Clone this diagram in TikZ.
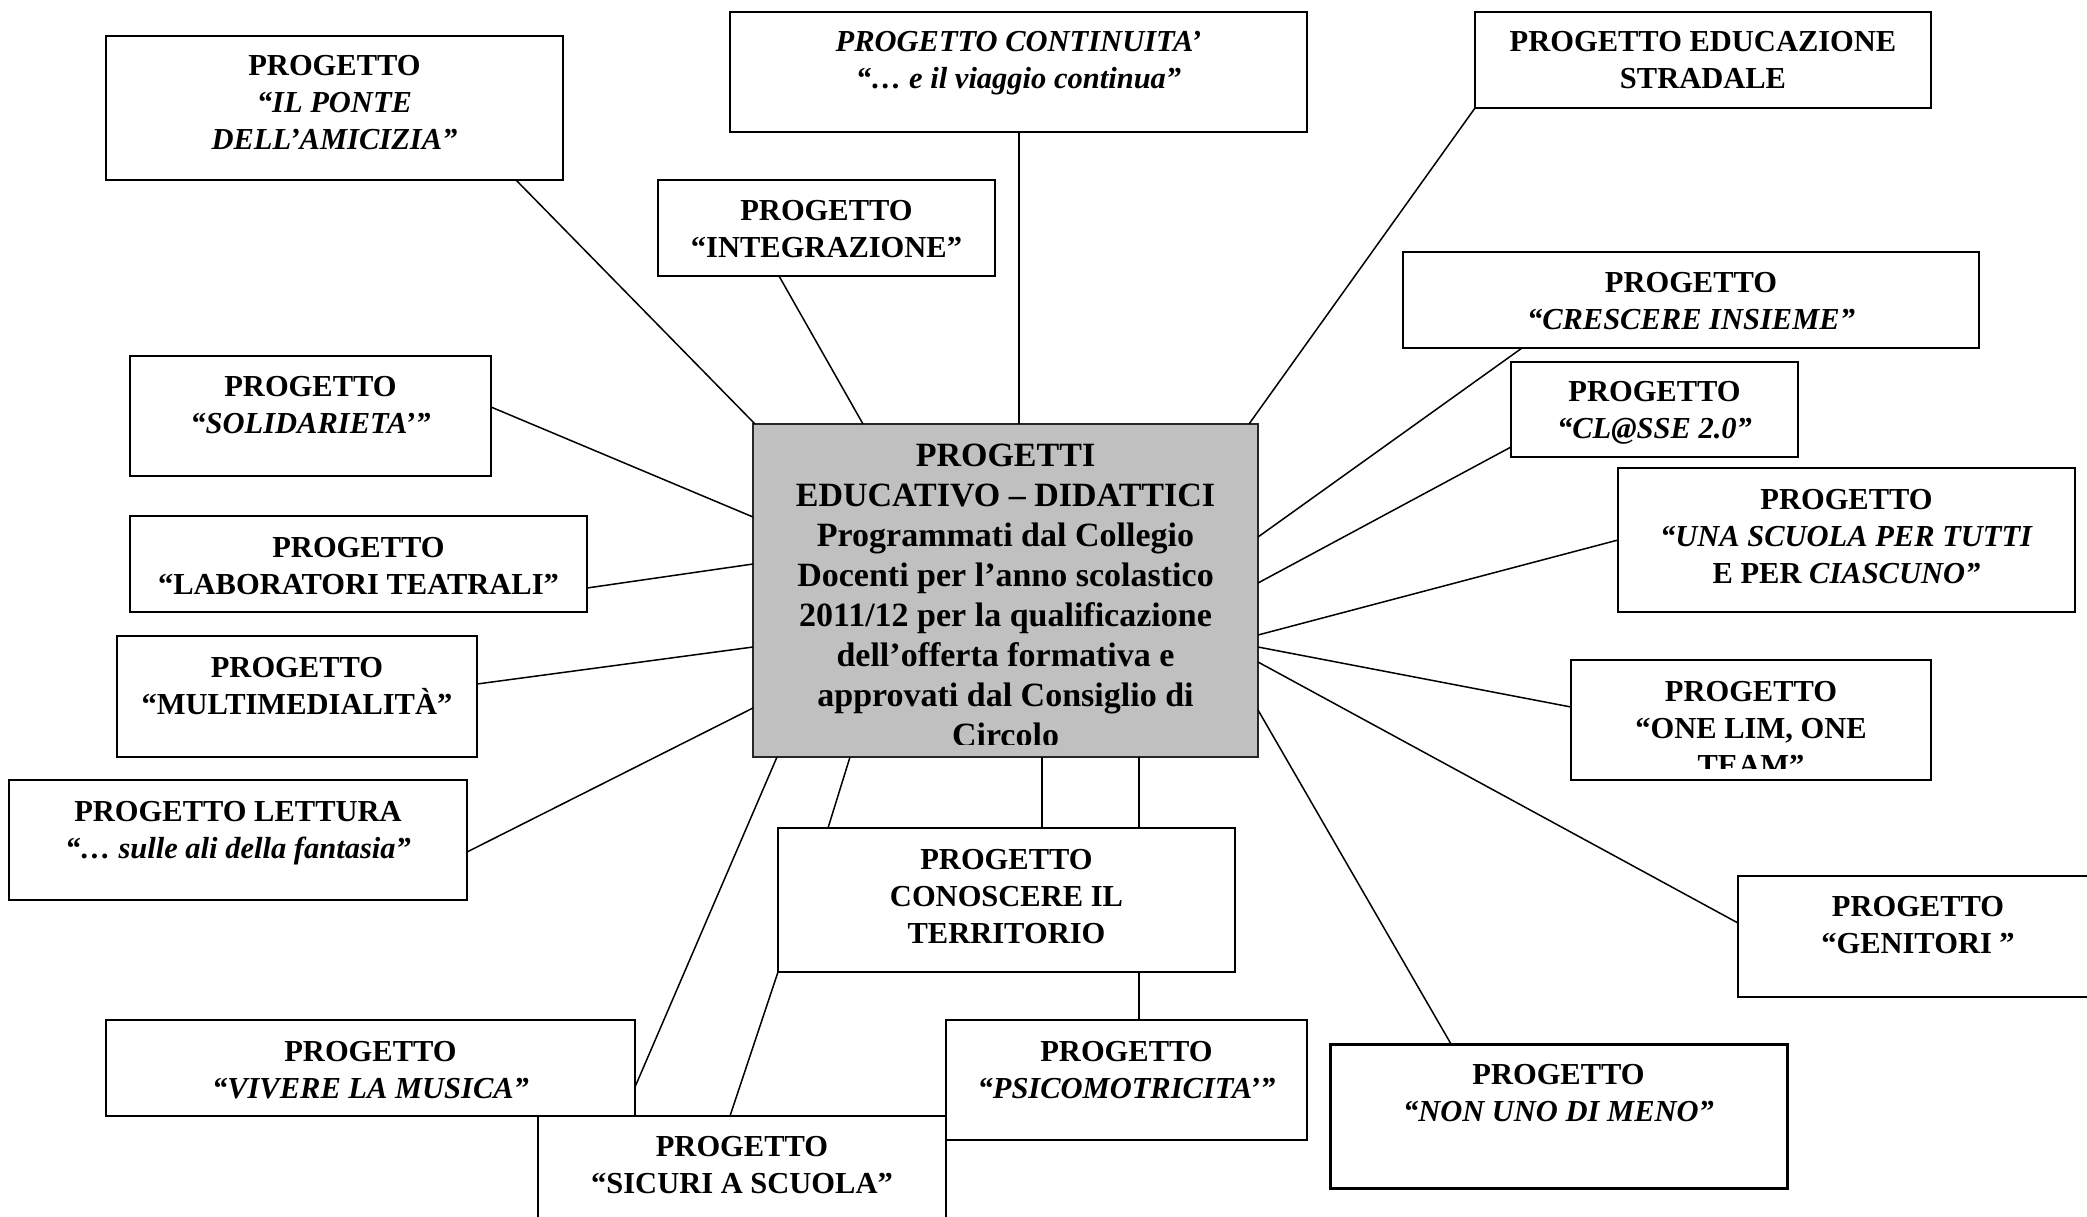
\documentclass[tikz,border=0pt]{standalone}
\usepackage{fontspec}
\setmainfont{Liberation Serif}
\usetikzlibrary{fit,calc}
\definecolor{ctrgray}{RGB}{192,192,192}
\begin{document}
\begin{tikzpicture}[x=0.5pt,y=-0.5pt,
  box/.style={draw, line width=1pt, fill=white, inner sep=0pt, outer sep=0pt},
  ctrbox/.style={box, fill=ctrgray, draw=black!85},
  txt/.style={anchor=north, inner sep=0pt, outer sep=0pt, align=center, font=\fontsize{15.25}{18.65}\selectfont\bfseries},
  ctxt/.style={txt, font=\fontsize{17}{20.05}\selectfont\bfseries},
  conn/.style={line width=0.75pt}]
\useasboundingbox (0,0) rectangle (2087,1216);
\fill[white] (0,0) rectangle (2087,1216);
\clip (0,0) rectangle (2087,1216);

% boxes
\node[box, fit={(106,36)(563,180)}] (ponte) {};
\node[box, fit={(730,12)(1307,132)}] (cont) {};
\node[box, fit={(1475,12)(1931,108)}] (strad) {};
\node[box, fit={(658,180)(995,276)}] (integ) {};
\node[box, fit={(1403,252)(1979,348)}] (cresc) {};
\node[box, fit={(130,356)(491,476)}] (solid) {};
\node[box, fit={(1511,362)(1798,457)}] (classe) {};
\node[box, fit={(1618,468)(2075,612)}] (una) {};
\node[box, fit={(130,516)(587,612)}] (lab) {};
\node[box, fit={(117,636)(477,757)}] (multi) {};
\node[box, fit={(1571,660)(1931,780)}] (onelim) {};
\node[box, fit={(9,780)(467,900)}] (lett) {};
\node[box, fit={(778,828)(1235,972)}] (con) {};
\node[box, fit={(1738,876)(2098,997)}] (gen) {};
\node[box, fit={(106,1020)(635,1116)}] (viv) {};
\node[box, fit={(538,1116)(946,1262)}] (sic) {};
\node[box, fit={(946,1020)(1307,1140)}] (psico) {};
\node[box, line width=1.5pt, fit={(1330,1044)(1787,1188)}] (nonuno) {};
\node[ctrbox, fit={(753,424)(1258,757)}] (ctr) {};

% texts
\node[txt] (ponte-t) at (334.5,55) {PROGETTO\\\textit{“IL PONTE}\\\textit{DELL’AMICIZIA”}};
\node[txt] (cont-t) at (1018.5,31) {\textit{PROGETTO CONTINUITA’}\\\textit{“… e il viaggio continua”}};
\node[txt] (strad-t) at (1703,31) {PROGETTO EDUCAZIONE\\STRADALE};
\node[txt] (integ-t) at (826.5,200) {PROGETTO\\“INTEGRAZIONE”};
\node[txt] (cresc-t) at (1691,272) {PROGETTO\\\textit{“CRESCERE INSIEME”}};
\node[txt] (solid-t) at (310.5,376) {PROGETTO\\\textit{“SOLIDARIETA’”}};
\node[txt] (classe-t) at (1654.5,381) {PROGETTO\\\textit{“CL@SSE 2.0”}};
\node[txt] (una-t) at (1846.5,489) {PROGETTO\\\textit{“UNA SCUOLA PER TUTTI}\\E PER \textit{CIASCUNO”}};
\node[txt] (lab-t) at (358.5,537) {PROGETTO\\“LABORATORI TEATRALI”};
\node[txt] (multi-t) at (297,657) {PROGETTO\\“MULTIMEDIALITÀ”};
\begin{scope}
\clip (onelim.north west) rectangle ($(onelim.south east)+(0,-12)$);
\node[txt] (onelim-t) at (1751,681) {PROGETTO\\“ONE LIM, ONE\\TEAM”};
\end{scope}
\node[txt] (lett-t) at (238,801) {PROGETTO LETTURA\\\textit{“… sulle ali della fantasia”}};
\node[txt] (con-t) at (1006.5,849) {PROGETTO\\CONOSCERE IL\\TERRITORIO};
\node[txt] (gen-t) at (1918,896) {PROGETTO\\“GENITORI ”};
\node[txt] (viv-t) at (370.5,1041) {PROGETTO\\\textit{“VIVERE LA MUSICA”}};
\node[txt] (psico-t) at (1126.5,1041) {PROGETTO\\\textit{“PSICOMOTRICITA’”}};
\node[txt] (nonuno-t) at (1558.5,1064) {PROGETTO\\\textit{“NON UNO DI MENO”}};
\node[txt] (sic-t) at (742,1136) {PROGETTO\\“SICURI A SCUOLA”};
\begin{scope}
\clip (ctr.north west) rectangle ($(ctr.south east)+(0,-13)$);
\node[ctxt] (ctr-t) at (1005.5,443.7) {PROGETTI\\EDUCATIVO – DIDATTICI\\Programmati dal Collegio\\Docenti per l’anno scolastico\\2011/12 per la qualificazione\\dell’offerta formativa e\\approvati dal Consiglio di\\Circolo};
\end{scope}

% connectors
\draw[conn] ($(ponte.south west)+(410,0)$) -- ($(ctr.north west)+(2,0)$);
\draw[conn] ($(integ.south west)+(121,0)$) -- ($(ctr.north west)+(110,0)$);
\draw[conn] ($(cont.south west)+(289,0)$) -- ($(ctr.north west)+(266,0)$);
\draw[conn] (strad.south west) -- ($(ctr.north west)+(496,0)$);
\draw[conn] ($(cresc.south west)+(119,0)$) -- ($(ctr.north east)+(0,113)$);
\draw[conn] ($(classe.south west)+(0,-10)$) -- ($(ctr.north east)+(0,159)$);
\draw[conn] ($(una.north west)+(0,72)$) -- ($(ctr.north east)+(0,211)$);
\draw[conn] ($(onelim.north west)+(0,47)$) -- ($(ctr.north east)+(0,223)$);
\draw[conn] ($(gen.north west)+(0,47)$) -- ($(ctr.north east)+(0,238)$);
\draw[conn] ($(nonuno.north west)+(121,0)$) -- ($(ctr.north east)+(0,286)$);
\draw[conn] ($(solid.north east)+(0,51)$) -- ($(ctr.north west)+(0,93)$);
\draw[conn] ($(lab.north east)+(0,72)$) -- ($(ctr.north west)+(0,140)$);
\draw[conn] ($(multi.north east)+(0,48)$) -- ($(ctr.north west)+(0,223)$);
\draw[conn] ($(lett.north east)+(0,72)$) -- ($(ctr.north west)+(0,284)$);
\draw[conn] ($(viv.north east)+(0,67)$) -- ($(ctr.south west)+(24,0)$);
\draw[conn] ($(con.north west)+(50,0)$) -- ($(ctr.south west)+(97,0)$);
\draw[conn] ($(con.north west)+(264,0)$) -- ($(ctr.south west)+(289,0)$);
\draw[conn] ($(con.north west)+(361,0)$) -- ($(ctr.south west)+(386,0)$);
\draw[conn] ($(sic.north west)+(192,0)$) -- (con.south west);
\draw[conn] ($(psico.north west)+(193,0)$) -- ($(con.south west)+(361,0)$);
\end{tikzpicture}
\end{document}
